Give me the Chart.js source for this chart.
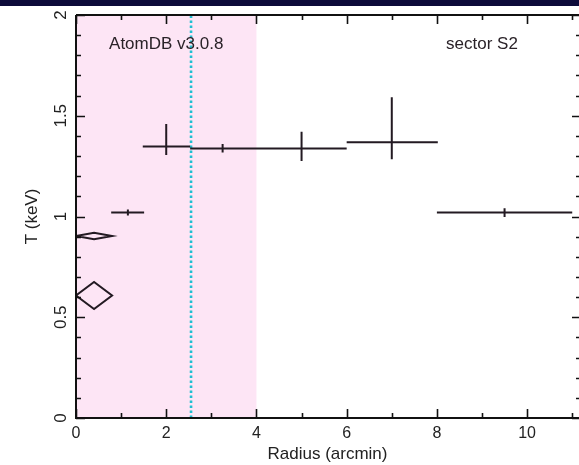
<!DOCTYPE html>
<html>
<head>
<meta charset="utf-8">
<script src="https://cdn.jsdelivr.net/npm/chart.js@4.4.0/dist/chart.umd.min.js"></script>
<style>
  html, body { margin: 0; padding: 0; background: #fff; }
  #wrap { width: 579px; height: 465px; }
</style>
</head>
<body>
<div id="wrap"><canvas id="myChart" width="579" height="465"></canvas></div>
<script>
// radial temperature profile, sector S2
var radius   = [1.15, 2.0, 3.25, 5.0, 7.0, 9.5];
var radiusLo = [0.78, 1.48, 2.53, 4.0, 6.0, 8.0];
var radiusHi = [1.51, 2.53, 4.0, 6.0, 8.02, 11.0];
var temp     = [1.02, 1.348, 1.338, 1.338, 1.368, 1.02];
var tempLo   = [1.005, 1.305, 1.317, 1.275, 1.284, 0.997];
var tempHi   = [1.035, 1.459, 1.36, 1.421, 1.592, 1.041];

// contour-like diamonds near the centre (x, y pairs)
var diamondA = [[0, 0.608], [0.4, 0.675], [0.8, 0.608], [0.4, 0.541], [0, 0.608]];
var diamondB = [[0, 0.903], [0.4, 0.919], [0.8, 0.903], [0.4, 0.887], [0, 0.903]];

var shadeFrom = 0, shadeTo = 4;
var markerRadius = 2.55;

var xTicks = [0, 2, 4, 6, 8, 10];
var yTicks = [0, 0.5, 1, 1.5, 2];
var yTickLabels = ['0', '0.5', '1', '1.5', '2'];

var notes = [
    { text: 'AtomDB v3.0.8', x: 2.0, y: 1.855 },
    { text: 'sector S2', x: 9.0, y: 1.855 }
];

var ink = '#231a22';

function errorSegments() {
    var pts = [];
    for (var i = 0; i < radius.length; i++) {
        pts.push({ x: radiusLo[i], y: temp[i] });
        pts.push({ x: radiusHi[i], y: temp[i] });
        pts.push({ x: radius[i], y: null });
        pts.push({ x: radius[i], y: tempLo[i] });
        pts.push({ x: radius[i], y: tempHi[i] });
        pts.push({ x: radius[i], y: null });
    }
    return pts;
}

function toPoints(arr) {
    return arr.map(function (p) { return { x: p[0], y: p[1] }; });
}

var framePlugin = {
    id: 'frame',
    beforeDraw: function (chart) {
        var ctx = chart.ctx;
        ctx.save();
        ctx.fillStyle = '#ffffff';
        ctx.fillRect(0, 0, chart.width, chart.height);
        ctx.fillStyle = '#0d0b3a';
        ctx.fillRect(0, 0, chart.width, 6);
        ctx.restore();
    },
    beforeDatasetsDraw: function (chart) {
        var ctx = chart.ctx, xs = chart.scales.x, a = chart.chartArea;
        ctx.save();
        ctx.fillStyle = '#fde5f5';
        var x0 = xs.getPixelForValue(shadeFrom), x1 = xs.getPixelForValue(shadeTo);
        ctx.fillRect(x0, a.top, x1 - x0, a.bottom - a.top);
        ctx.restore();
    },
    afterDatasetsDraw: function (chart) {
        var ctx = chart.ctx, xs = chart.scales.x, ys = chart.scales.y, a = chart.chartArea;
        ctx.save();
        ctx.strokeStyle = '#111';
        ctx.lineWidth = 2;
        ctx.beginPath();
        ctx.moveTo(a.left, a.top);
        ctx.lineTo(a.right + 2, a.top);
        ctx.moveTo(a.left, a.top);
        ctx.lineTo(a.left, a.bottom);
        ctx.lineTo(a.right + 2, a.bottom);
        ctx.stroke();

        // inward ticks
        ctx.lineWidth = 1.6;
        ctx.beginPath();
        for (var v = 0; v <= xs.max; v += 1) {
            var px = Math.round(xs.getPixelForValue(v)) + 0.5;
            var len = (v % 2 === 0) ? 9 : 5;
            ctx.moveTo(px, a.bottom); ctx.lineTo(px, a.bottom - len);
            ctx.moveTo(px, a.top); ctx.lineTo(px, a.top + len);
        }
        for (var k = 0; k <= 20; k++) {
            var py = Math.round(ys.getPixelForValue(k / 10)) + 0.5;
            var l = (k % 5 === 0) ? 9 : 5;
            ctx.moveTo(a.left, py); ctx.lineTo(a.left + l, py);
            ctx.moveTo(chart.width, py); ctx.lineTo(chart.width - l + 2, py);
        }
        ctx.stroke();

        // rotated y tick labels
        ctx.fillStyle = '#222';
        ctx.font = '17px "Liberation Sans", Arial, sans-serif';
        ctx.textAlign = 'center';
        ctx.textBaseline = 'middle';
        yTicks.forEach(function (t, i) {
            ctx.save();
            ctx.translate(a.left - 15, ys.getPixelForValue(t));
            ctx.rotate(-Math.PI / 2);
            ctx.fillText(yTickLabels[i], 0, 0);
            ctx.restore();
        });

        ctx.font = '17px "Liberation Sans", Arial, sans-serif';
        ctx.fillStyle = '#2a2228';
        notes.forEach(function (n) {
            ctx.fillText(n.text, xs.getPixelForValue(n.x), ys.getPixelForValue(n.y));
        });
        ctx.restore();
    }
};

var ctx = document.getElementById('myChart').getContext('2d');

var chart = new Chart(ctx, {
    type: 'scatter',
    data: {
        datasets: [
            {
                data: errorSegments(),
                showLine: true,
                spanGaps: false,
                borderColor: ink,
                borderWidth: 2,
                pointRadius: 0,
            },
            {
                data: toPoints(diamondA),
                showLine: true,
                borderColor: ink,
                borderWidth: 2,
                pointRadius: 0,
            },
            {
                data: toPoints(diamondB),
                showLine: true,
                borderColor: ink,
                borderWidth: 2,
                pointRadius: 0,
            },
            {
                data: [{ x: markerRadius, y: 0 }, { x: markerRadius, y: 2 }],
                showLine: true,
                borderColor: '#1fc0d2',
                borderWidth: 2.6,
                borderDash: [2.5, 2.5],
                pointRadius: 0,
            },
        ],
    },
    options: {
        responsive: false,
        animation: false,
        events: [],
        layout: { padding: { top: 15, right: 0, left: 0, bottom: 0 } },
        plugins: {
            legend: { display: false },
            tooltip: { enabled: false },
        },
        scales: {
            x: {
                type: 'linear',
                min: 0,
                max: 11.15,
                afterBuildTicks: function (scale) {
                    scale.ticks = xTicks.map(function (v) { return { value: v }; });
                },
                afterFit: function (scale) { scale.height = 47; },
                grid: { display: false, drawTicks: false },
                border: { display: false },
                ticks: {
                    padding: 6,
                    color: '#222',
                    font: { family: 'Liberation Sans', size: 16 },
                    maxRotation: 0,
                },
                title: {
                    display: true,
                    text: 'Radius (arcmin)',
                    color: '#222',
                    font: { family: 'Liberation Sans', size: 17 },
                    padding: { top: 0, bottom: 0 },
                },
            },
            y: {
                type: 'linear',
                min: 0,
                max: 2,
                afterFit: function (scale) { scale.width = 76; },
                grid: { display: false, drawTicks: false },
                border: { display: false },
                ticks: { callback: function () { return ''; } },
                title: {
                    display: true,
                    text: 'T (keV)',
                    color: '#222',
                    font: { family: 'Liberation Sans', size: 17 },
                    padding: { top: 22, bottom: 0 },
                },
            },
        },
    },
    plugins: [framePlugin],
});
</script>
</body>
</html>
